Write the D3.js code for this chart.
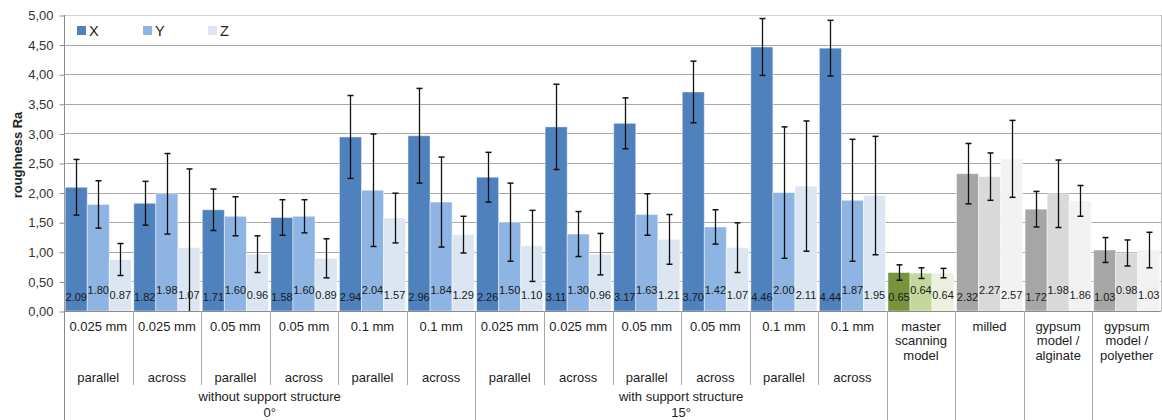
<!DOCTYPE html>
<html>
<head>
<meta charset="utf-8">
<script src="https://cdn.jsdelivr.net/npm/d3@7"></script>
<style>
  html, body { margin: 0; padding: 0; background: #fff; }
  svg { display: block; font-family: "Liberation Sans", Arial, sans-serif; }
</style>
</head>
<body>
<svg id="chart" width="1162" height="420"></svg>
<script>
// ---------- DATA ----------
const level1 = ["0.025 mm","0.025 mm","0.05 mm","0.05 mm","0.1 mm","0.1 mm",
                "0.025 mm","0.025 mm","0.05 mm","0.05 mm","0.1 mm","0.1 mm",
                "master\nscanning\nmodel","milled","gypsum\nmodel /\nalginate","gypsum\nmodel /\npolyether"];
const level2 = ["parallel","across","parallel","across","parallel","across",
                "parallel","across","parallel","across","parallel","across",
                "","","",""];
const level3Labels = [["without support structure","0°"],["with support structure","15°"]];
const level3Spans = [[0,6],[6,12]];
const seriesNames = ["X","Y","Z"];
const valuesX = [2.09,1.82,1.71,1.58,2.94,2.96,2.26,3.11,3.17,3.70,4.46,4.44,0.65,2.32,1.72,1.03];
const valuesY = [1.80,1.98,1.60,1.60,2.04,1.84,1.50,1.30,1.63,1.42,2.00,1.87,0.64,2.27,1.98,0.98];
const valuesZ = [0.87,1.07,0.96,0.89,1.57,1.29,1.10,0.96,1.21,1.07,2.11,1.95,0.64,2.57,1.86,1.03];
const errX = [0.47,0.37,0.35,0.30,0.70,0.80,0.42,0.72,0.43,0.52,0.48,0.47,0.13,0.51,0.30,0.21];
const errY = [0.40,0.68,0.33,0.28,0.95,0.76,0.66,0.38,0.35,0.29,1.11,1.03,0.09,0.40,0.57,0.22];
const errZ = [0.27,1.33,0.31,0.33,0.42,0.31,0.60,0.35,0.42,0.42,1.10,1.00,0.08,0.65,0.26,0.30];
const yTicks = [0,0.5,1,1.5,2,2.5,3,3.5,4,4.5,5];
const blues = ["#4F81BD","#8EB4E3","#DCE6F2"];
const greens = ["#77933C","#C3D69B","#EBF1DE"];
const grays = ["#A6A6A6","#D9D9D9","#F2F2F2"];
const groupPalette = ["b","b","b","b","b","b","b","b","b","b","b","b","g","k","k","k"];

// ---------- LAYOUT ----------
const svg = d3.select("#chart");
const L = 64, R = 1161, T = 15, B = 311;
const groups = d3.range(level1.length);
const x0 = d3.scaleBand().domain(groups).range([L, R]).paddingInner(0).paddingOuter(0);
const x1 = d3.scaleBand().domain([0,1,2]).range([1.2, x0.bandwidth() - 1.2]);
const y = d3.scaleLinear().domain([0, 5]).range([B, T]);
const values = [valuesX, valuesY, valuesZ];
const errs = [errX, errY, errZ];
const palettes = {b: blues, g: greens, k: grays};
const fmtTick = d => d3.format(".2f")(d).replace(".", ",");

// gridlines
svg.append("g").selectAll("line").data(yTicks.filter(d => d > 0)).join("line")
  .attr("x1", L).attr("x2", R)
  .attr("y1", d => Math.round(y(d)) + 0.5).attr("y2", d => Math.round(y(d)) + 0.5)
  .attr("stroke", d => d === 5 ? "#D4D4D4" : "#A8A8A8").attr("stroke-width", 1);

// right border of plot
svg.append("line").attr("x1", R + 0.5).attr("x2", R + 0.5).attr("y1", T).attr("y2", B)
  .attr("stroke", "#BDBDBD");

// y axis
const yAxis = d3.axisLeft(y).tickValues(yTicks).tickFormat(fmtTick).tickSize(5).tickPadding(6);
const gy = svg.append("g").attr("transform", `translate(${L + 0.5},0.5)`).call(yAxis);
gy.select(".domain").remove();
gy.selectAll(".tick line").attr("stroke", "#8C8C8C");
gy.selectAll(".tick text").attr("fill", "#333").attr("font-size", "13px")
  .attr("font-family", "Liberation Sans, Arial, sans-serif");
svg.append("line").attr("x1", L + 0.5).attr("x2", L + 0.5).attr("y1", T).attr("y2", 420)
  .attr("stroke", "#8C8C8C");

// y title
svg.append("text").attr("transform", `translate(22,155) rotate(-90)`)
  .attr("text-anchor", "middle").attr("font-size", "13px").attr("font-weight", "bold")
  .attr("fill", "#222").text("roughness Ra");

// clip
svg.append("clipPath").attr("id", "plotclip").append("rect")
  .attr("x", L).attr("y", T - 5).attr("width", R - L + 5).attr("height", B - T + 5);

// bars
const barsG = svg.append("g");
groups.forEach(g => {
  const pal = palettes[groupPalette[g]];
  [0,1,2].forEach(s => {
    const v = values[s][g];
    barsG.append("rect")
      .attr("x", x0(g) + x1(s)).attr("width", x1.bandwidth())
      .attr("y", y(v)).attr("height", y(0) - y(v))
      .attr("fill", pal[s]).attr("stroke", "rgba(255,255,255,0.45)").attr("stroke-width", 1);
  });
});

// x axis line
svg.append("line").attr("x1", L).attr("x2", R).attr("y1", B + 0.5).attr("y2", B + 0.5)
  .attr("stroke", "#8C8C8C");

// data labels
const labelY = [297, 290, 295];
groups.forEach(g => {
  [0,1,2].forEach(s => {
    barsG.append("text")
      .attr("x", x0(g) + x1(s) + x1.bandwidth() / 2)
      .attr("y", labelY[s]).attr("dy", "0.35em")
      .attr("text-anchor", "middle").attr("font-size", "11px").attr("fill", "#1a1a1a")
      .text(d3.format(".2f")(values[s][g]));
  });
});

// error bars
const errG = svg.append("g").attr("clip-path", "url(#plotclip)");
groups.forEach(g => {
  [0,1,2].forEach(s => {
    const v = values[s][g], e = errs[s][g];
    const cx = Math.round(x0(g) + x1(s) + x1.bandwidth() / 2) + 0.5;
    const yt = y(v + e), yb = y(Math.max(v - e, -0.2));
    errG.append("line").attr("x1", cx).attr("x2", cx).attr("y1", yt).attr("y2", yb)
      .attr("stroke", "#111").attr("stroke-width", 1.3);
    errG.append("line").attr("x1", cx - 3).attr("x2", cx + 3).attr("y1", yt).attr("y2", yt)
      .attr("stroke", "#111").attr("stroke-width", 1.5);
    if (v - e > 0) {
      errG.append("line").attr("x1", cx - 3).attr("x2", cx + 3).attr("y1", yb).attr("y2", yb)
        .attr("stroke", "#111").attr("stroke-width", 1.5);
    }
  });
});

// category separators
const sepG = svg.append("g").attr("stroke", "#A8A8A8").attr("stroke-width", 1);
const longSeps = [6, 12, 13, 14, 15];
groups.slice(1).forEach(g => {
  const xx = Math.round(x0(g)) + 0.5;
  sepG.append("line").attr("x1", xx).attr("x2", xx).attr("y1", B)
    .attr("y2", longSeps.includes(g) ? 420 : 385);
});

// level 1 labels
const catG = svg.append("g").attr("font-size", "13px").attr("fill", "#222").attr("text-anchor", "middle");
groups.forEach(g => {
  const lines = level1[g].split("\n");
  const t = catG.append("text").attr("x", x0(g) + x0.bandwidth() / 2).attr("y", 330.5);
  lines.forEach((ln, i) => {
    t.append("tspan").attr("x", x0(g) + x0.bandwidth() / 2).attr("dy", i === 0 ? 0 : 14.8).text(ln);
  });
  if (level2[g]) {
    catG.append("text").attr("x", x0(g) + x0.bandwidth() / 2).attr("y", 382).text(level2[g]);
  }
});
// level 3 labels
level3Spans.forEach((sp, i) => {
  const cx = (x0(sp[0]) + x0(sp[1] - 1) + x0.bandwidth()) / 2;
  catG.append("text").attr("x", cx).attr("y", 401).text(level3Labels[i][0]);
  catG.append("text").attr("x", cx).attr("y", 416.5).text(level3Labels[i][1]);
});

// legend
const legX = [77, 143, 208];
const legG = svg.append("g");
seriesNames.forEach((n, i) => {
  legG.append("rect").attr("x", legX[i]).attr("y", 26).attr("width", 9).attr("height", 9).attr("fill", blues[i]);
  legG.append("text").attr("x", legX[i] + 12).attr("y", 35.5).attr("font-size", "14.5px").attr("fill", "#222").text(n);
});
</script>
</body>
</html>
